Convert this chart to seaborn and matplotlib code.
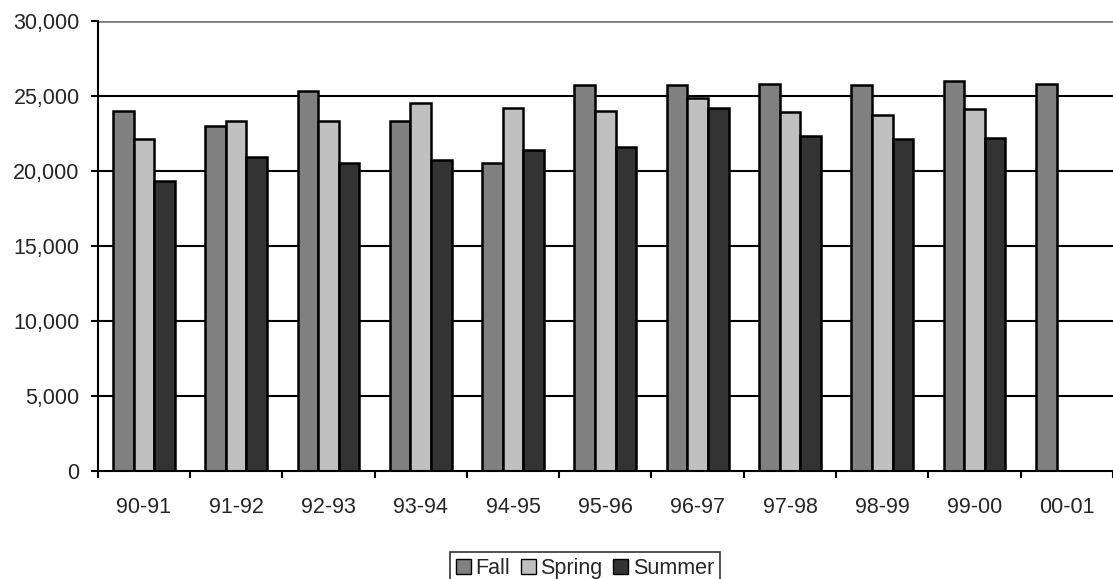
import seaborn as sns
import pandas as pd
import matplotlib.pyplot as plt
import numpy as np
from matplotlib.ticker import FuncFormatter, FixedLocator

# Anos letivos e matrículas por semestre
anos = ["90-91", "91-92", "92-93", "93-94", "94-95", "95-96",
        "96-97", "97-98", "98-99", "99-00", "00-01"]
fall = [24000, 23000, 25300, 23300, 20500, 25700, 25700, 25800, 25700, 25950, 25800]
spring = [22100, 23300, 23300, 24500, 24200, 24000, 24850, 23900, 23750, 24150, np.nan]
summer = [19300, 20900, 20500, 20750, 21400, 21600, 24200, 22300, 22100, 22200, np.nan]

dataframe = pd.DataFrame({"Ano": anos, "Fall": fall, "Spring": spring, "Summer": summer})
dataframe = dataframe.melt(id_vars="Ano", var_name="Semestre", value_name="Total")

sns.set_style("white")
plt.rcParams['font.family'] = ['Liberation Sans', 'DejaVu Sans']

paleta = {"Fall": "#808080", "Spring": "#C0C0C0", "Summer": "#333333"}

fig = plt.figure(figsize=(11.13, 5.79), dpi=100)
ax = fig.add_axes([97.7 / 1113, 1 - 471 / 579, (1113 - 97.7) / 1113, (471 - 20.7) / 579])

sns.barplot(data=dataframe, x="Ano", y="Total", hue="Semestre", palette=paleta,
            width=0.67, gap=0, edgecolor="black", linewidth=1.8, ax=ax, legend=False)

ax.set_xlim(-0.5, len(anos) - 0.5)
ax.set_ylim(0, 30000)
ax.set_yticks(range(0, 30001, 5000))
ax.yaxis.set_major_formatter(FuncFormatter(lambda v, p: f"{int(v):,}"))
ax.set_xlabel("")
ax.set_ylabel("")

# Grade horizontal (a de cima é cinza)
for v in range(5000, 25001, 5000):
    ax.axhline(v, color="black", linewidth=1.5, zorder=0)
ax.axhline(30000, color="#808080", linewidth=2, zorder=0)

for lado in ["top", "right"]:
    ax.spines[lado].set_visible(False)
ax.spines["left"].set_color("black")
ax.spines["left"].set_linewidth(1.5)
ax.spines["bottom"].set_color("black")
ax.spines["bottom"].set_linewidth(1.5)

# Marcas do eixo x entre as categorias
ax.xaxis.set_minor_locator(FixedLocator(np.arange(-0.5, len(anos), 1.0)))
ax.tick_params(axis="x", which="major", length=0, pad=19, labelsize=15.5)
ax.tick_params(axis="x", which="minor", length=5, width=1.5, direction="out", color="black")
ax.tick_params(axis="y", length=5, width=1.5, direction="out", color="black", labelsize=15.5, pad=8)
ax.tick_params(left=True, bottom=True, which="both")

handles = [plt.Rectangle((0, 0), 1, 1, facecolor=paleta[s], edgecolor="black", linewidth=1)
           for s in ["Fall", "Spring", "Summer"]]
leg = fig.legend(handles, ["Fall", "Spring", "Summer"], loc="lower center",
                 bbox_to_anchor=(585 / 1113, -0.012), ncol=3, frameon=True, fancybox=False,
                 fontsize=15.5, handlelength=0.7, handleheight=0.7, handletextpad=0.2,
                 columnspacing=0.5, borderpad=0.3, borderaxespad=0)
leg.get_frame().set_edgecolor("black")
leg.get_frame().set_linewidth(1.2)

plt.savefig("out.png", dpi=100)
